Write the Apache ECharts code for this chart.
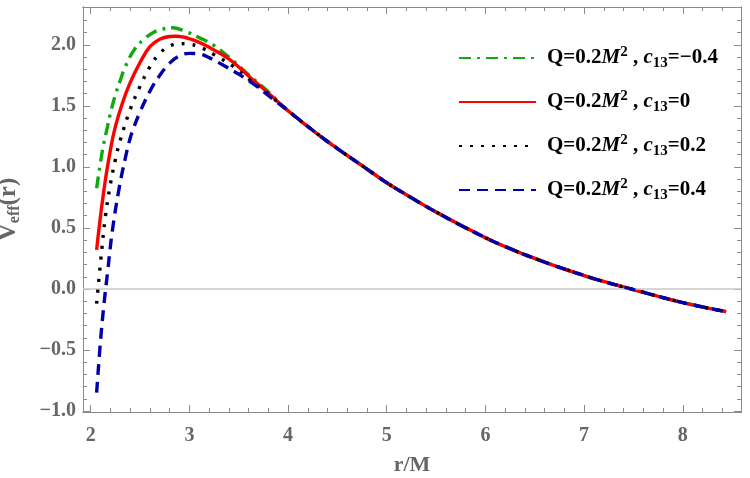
<!DOCTYPE html>
<html>
<head>
<meta charset="utf-8">
<script src="https://cdn.jsdelivr.net/npm/echarts@6/dist/echarts.min.js"></script>
<style>
  html, body { margin: 0; padding: 0; background: #fff; }
  #main { width: 750px; height: 478px; }
</style>
</head>
<body>
<div id="main"></div>
<script>
// c13 values of the four curves (Q = 0.2 M^2)
var c13Labels = ['\u22120.4', '0', '0.2', '0.4'];
var colors = ['#12a812', '#ff0000', '#000000', '#0000aa'];

// rising part + peak, one pair of arrays per curve
var rGreen = [2.06, 2.12, 2.17, 2.2, 2.25, 2.3, 2.35, 2.45, 2.56, 2.63, 2.71, 2.83, 2.96, 3.11, 3.24, 3.4, 3.6, 3.8];
var vGreen = [0.825, 1.14, 1.33, 1.44, 1.59, 1.71, 1.82, 1.97, 2.06, 2.1, 2.125, 2.14, 2.11, 2.055, 2.0, 1.9, 1.755, 1.615];

var rRed = [2.06, 2.1, 2.15, 2.2, 2.25, 2.32, 2.4, 2.5, 2.6, 2.7, 2.8, 2.86, 2.95, 3.0, 3.1, 3.2, 3.4, 3.6, 3.8];
var vRed = [0.32, 0.6, 0.9, 1.14, 1.33, 1.52, 1.69, 1.855, 1.985, 2.045, 2.068, 2.07, 2.062, 2.05, 2.02, 1.98, 1.885, 1.745, 1.605];

var rBlack = [2.06, 2.1, 2.15, 2.2, 2.25, 2.3, 2.4, 2.5, 2.6, 2.7, 2.8, 2.9, 3.0, 3.1, 3.25, 3.45, 3.6, 3.8];
var vBlack = [-0.12, 0.22, 0.6, 0.86, 1.06, 1.22, 1.47, 1.66, 1.82, 1.93, 1.99, 2.01, 2.005, 1.985, 1.92, 1.82, 1.72, 1.595];

var rBlue = [2.06, 2.1, 2.135, 2.17, 2.22, 2.285, 2.35, 2.4, 2.44, 2.5, 2.6, 2.7, 2.8, 2.9, 3.0, 3.1, 3.2, 3.35, 3.5, 3.65, 3.8];
var vBlue = [-0.85, -0.42, -0.12, 0.13, 0.48, 0.81, 1.07, 1.235, 1.33, 1.45, 1.62, 1.75, 1.85, 1.91, 1.93, 1.925, 1.895, 1.83, 1.76, 1.68, 1.585];

// all four curves lie on top of each other from r ~ 4
var rTail = [4.0, 4.33, 4.5, 4.75, 5.0, 5.12, 5.5, 6.0, 6.28, 6.5, 6.72, 7.0, 7.14, 7.5, 8.0, 8.44];
var vTail = [1.46, 1.25, 1.15, 1.01, 0.87, 0.81, 0.63, 0.42, 0.32, 0.25, 0.185, 0.11, 0.074, -0.005, -0.112, -0.186];

// ticks
var xMajor = [2, 3, 4, 5, 6, 7, 8];
var xMinor = [2.2, 2.4, 2.6, 2.8, 3.2, 3.4, 3.6, 3.8, 4.2, 4.4, 4.6, 4.8, 5.2, 5.4, 5.6, 5.8,
              6.2, 6.4, 6.6, 6.8, 7.2, 7.4, 7.6, 7.8, 8.2, 8.4];
var yMajor = [-1.0, -0.5, 0.0, 0.5, 1.0, 1.5, 2.0];
var yMinor = [-0.9, -0.8, -0.7, -0.6, -0.4, -0.3, -0.2, -0.1, 0.1, 0.2, 0.3, 0.4,
              0.6, 0.7, 0.8, 0.9, 1.1, 1.2, 1.3, 1.4, 1.6, 1.7, 1.8, 1.9, 2.1, 2.2];

function pairs(rs, vs) {
    var out = [];
    for (var i = 0; i < rs.length; i++) out.push([rs[i], vs[i]]);
    for (var j = 0; j < rTail.length; j++) out.push([rTail[j], vTail[j]]);
    return out;
}

var heads = [[rGreen, vGreen], [rRed, vRed], [rBlack, vBlack], [rBlue, vBlue]];
var dashes = [[12, 6, 3, 6], 'solid', [3, 8], [11, 7]];

var serif = 'Liberation Serif';
var frameColor = '#8a8a8a';
var labelColor = '#666666';

function xAxisOf(pos, ticks, len, labels) {
    return {
        type: 'value', position: pos, min: 1.922, max: 8.59,
        name: labels ? 'r/M' : '', nameLocation: 'middle', nameGap: 42,
        nameTextStyle: { fontFamily: serif, fontWeight: 'bold', fontSize: 22, color: labelColor },
        axisLine: { show: true, onZero: false, lineStyle: { color: frameColor, width: 1 } },
        axisTick: { show: true, inside: true, length: len, customValues: ticks, lineStyle: { color: frameColor } },
        axisLabel: {
            show: !!labels, customValues: xMajor, margin: 14,
            fontFamily: serif, fontWeight: 'bold', fontSize: 20, color: labelColor
        },
        splitLine: { show: false }
    };
}

function yAxisOf(pos, ticks, len, labels) {
    return {
        type: 'value', position: pos, min: -1.008, max: 2.31,
        name: labels ? '{v|V}{s|eff}{v|(r)}' : '', nameLocation: 'middle', nameGap: 60, nameRotate: 90,
        nameTextStyle: {
            color: labelColor,
            rich: {
                v: { fontFamily: serif, fontWeight: 'bold', fontSize: 25, color: labelColor, lineHeight: 28, verticalAlign: 'middle' },
                s: { fontFamily: serif, fontWeight: 'bold', fontSize: 16, color: labelColor, lineHeight: 28, verticalAlign: 'bottom' }
            }
        },
        axisLine: { show: true, onZero: false, lineStyle: { color: frameColor, width: 1 } },
        axisTick: { show: true, inside: true, length: len, customValues: ticks, lineStyle: { color: frameColor } },
        axisLabel: {
            show: !!labels, customValues: yMajor, margin: 7,
            fontFamily: serif, fontWeight: 'bold', fontSize: 20, color: labelColor,
            formatter: function (v) { return v.toFixed(1).replace('-', '\u2212'); }
        },
        splitLine: { show: false }
    };
}

var series = [];
for (var k = 0; k < 4; k++) {
    series.push({
        name: 'c13=' + c13Labels[k],
        type: 'line',
        xAxisIndex: 0,
        yAxisIndex: 0,
        data: pairs(heads[k][0], heads[k][1]),
        smooth: 0.4,
        showSymbol: false,
        symbol: 'none',
        lineStyle: { color: colors[k], width: 3.4, type: dashes[k], cap: 'butt' },
        itemStyle: { color: colors[k] },
        z: 3 + k
    });
}
// light grey line at V = 0, drawn under the curves
series.push({
    type: 'line', xAxisIndex: 0, yAxisIndex: 0, data: [], z: 1, silent: true,
    markLine: {
        silent: true, symbol: 'none', label: { show: false },
        lineStyle: { color: '#c8c8c8', width: 1.5, type: 'solid' },
        data: [{ yAxis: 0 }]
    }
});

var myChart = echarts.init(document.getElementById('main'));
var option = {
    animation: false,
    backgroundColor: '#ffffff',
    grid: { left: 83, right: 9, top: 7, bottom: 66, containLabel: false, outerBoundsMode: 'none' },
    xAxis: [
        xAxisOf('bottom', xMajor, 7, true),
        xAxisOf('bottom', xMinor, 4, false),
        xAxisOf('top', xMajor, 7, false),
        xAxisOf('top', xMinor, 4, false)
    ],
    yAxis: [
        yAxisOf('left', yMajor, 7, true),
        yAxisOf('left', yMinor, 4, false),
        yAxisOf('right', yMajor, 7, false),
        yAxisOf('right', yMinor, 4, false)
    ],
    legend: {
        orient: 'vertical',
        left: 453,
        top: 40,
        itemGap: 18,
        itemWidth: 77,
        itemHeight: 12,
        itemStyle: { opacity: 0, borderWidth: 0 },
        data: series.slice(0, 4).map(function (d) { return d.name; }),
        formatter: function (name) {
            var c = name.split('=')[1];
            return '{gap|}{b|Q=0.2}{i|M}{sup|2}{b| , }{i|c}{sub|13}{b|=' + c + '}';
        },
        textStyle: {
            fontFamily: serif, fontWeight: 'bold', fontSize: 21, color: '#000',
            rich: {
                gap: { width: 6 },
                b: { fontFamily: serif, fontWeight: 'bold', fontSize: 21, color: '#000', lineHeight: 26, verticalAlign: 'middle' },
                i: { fontFamily: serif, fontWeight: 'bold', fontStyle: 'italic', fontSize: 21, color: '#000', lineHeight: 26, verticalAlign: 'middle' },
                sup: { fontFamily: serif, fontWeight: 'bold', fontSize: 15, color: '#000', lineHeight: 15, verticalAlign: 'top' },
                sub: { fontFamily: serif, fontWeight: 'bold', fontSize: 15, color: '#000', lineHeight: 15, verticalAlign: 'bottom' }
            }
        }
    },
    series: series
};
myChart.setOption(option);
</script>
</body>
</html>
